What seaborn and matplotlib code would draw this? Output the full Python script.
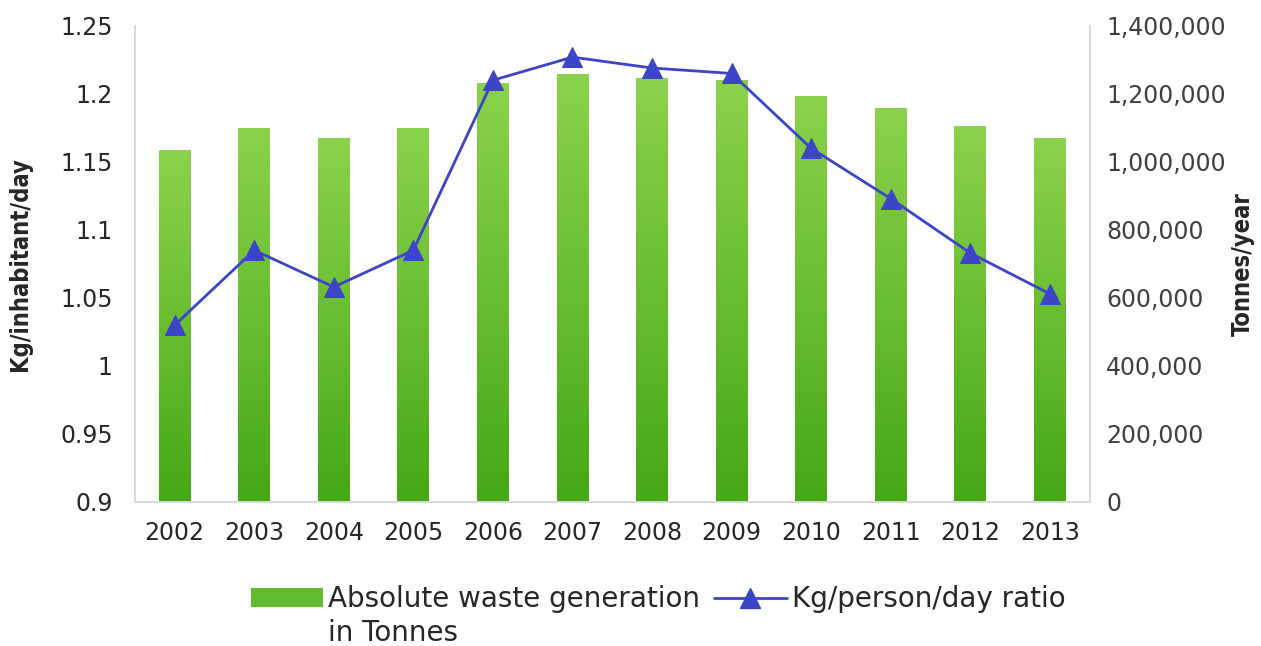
import numpy as np
import pandas as pd
import matplotlib
matplotlib.use('Agg')
import matplotlib.pyplot as plt
from matplotlib.colors import LinearSegmentedColormap
from matplotlib.lines import Line2D
from matplotlib.patches import Patch
from matplotlib.ticker import FuncFormatter
import seaborn as sns

# --- Data ---
years = ['2002', '2003', '2004', '2005', '2006', '2007',
         '2008', '2009', '2010', '2011', '2012', '2013']
tonnes = [1035000, 1100000, 1070000, 1100000, 1232000, 1258000,
          1248000, 1241000, 1194000, 1158000, 1106000, 1070000]
kg_per_day = [1.030, 1.085, 1.058, 1.085, 1.210, 1.227,
              1.219, 1.215, 1.160, 1.123, 1.083, 1.053]

left_ticks = [0.9, 0.95, 1.0, 1.05, 1.1, 1.15, 1.2, 1.25]
left_tick_labels = ['0.9', '0.95', '1', '1.05', '1.1', '1.15', '1.2', '1.25']
right_ticks = [0, 200000, 400000, 600000, 800000, 1000000, 1200000, 1400000]

bar_label = 'Absolute waste generation'
bar_label_2 = 'in Tonnes'
line_label = 'Kg/person/day ratio'

df = pd.DataFrame({'year': years, 'tonnes': tonnes, 'kg': kg_per_day})
df['pos'] = np.arange(len(df))

sns.set_style('white')
plt.rcParams['font.family'] = ['DejaVu Sans']

text_col = '#262626'
spine_col = '#D9D9D9'
line_col = '#3C44C8'
green_top = '#8DD24C'
green_bot = '#45A815'

fig = plt.figure(figsize=(12.61, 6.46), dpi=100)
ax = fig.add_axes([0.107, 0.223, 0.757, 0.737])

# bars on the main axes (right-hand scale), line on the twin (left-hand scale)
sns.barplot(data=df, x='year', y='tonnes', ax=ax, color=green_bot, width=0.4,
            saturation=1, edgecolor='none')

cmap = LinearSegmentedColormap.from_list('grn', [green_bot, green_top])
grad = np.linspace(0, 1, 256).reshape(-1, 1)
for bar in list(ax.patches):
    x0, y0 = bar.get_x(), bar.get_y()
    w, h = bar.get_width(), bar.get_height()
    im = ax.imshow(grad, extent=[x0, x0 + w, y0, y0 + h], origin='lower',
                   aspect='auto', cmap=cmap, zorder=2)
    im.set_clip_path(bar)

ax.set_xlim(-0.5, len(years) - 0.5)
ax.set_ylim(0, 1400000)
ax.set_xlabel('')

ax2 = ax.twinx()
sns.lineplot(data=df, x='pos', y='kg', ax=ax2, color=line_col, linewidth=2.0,
             marker='^', markersize=14, markeredgecolor=line_col)
ax2.set_xlim(-0.5, len(years) - 0.5)
ax2.set_xlabel('')

# twinx flips the ticks, so set the sides after creating it
ax.yaxis.tick_right()
ax.yaxis.set_label_position('right')
ax.set_yticks(right_ticks)
ax.yaxis.set_major_formatter(FuncFormatter(lambda v, p: f'{int(v):,}'))
ax.set_ylabel('Tonnes/year', fontsize=17, fontweight='bold',
              fontstretch='condensed', color=text_col, labelpad=4)

ax2.yaxis.tick_left()
ax2.yaxis.set_label_position('left')
ax2.set_ylim(0.9, 1.25)
ax2.set_yticks(left_ticks)
ax2.set_yticklabels(left_tick_labels)
ax2.set_ylabel('Kg/inhabitant/day', fontsize=17, fontweight='bold',
               fontstretch='condensed', color=text_col, labelpad=20)

for a in (ax, ax2):
    for s in a.spines.values():
        s.set_color(spine_col)
        s.set_linewidth(1.2)
    a.spines['top'].set_visible(False)
    a.tick_params(length=0, labelsize=17, colors=text_col)
    a.grid(False)
ax.tick_params(axis='x', pad=14, labelsize=17)
ax.tick_params(axis='y', pad=12, colors='#404040')
ax2.tick_params(axis='y', pad=16)

handles = [Patch(facecolor='#62BC2C', edgecolor='none'),
           Line2D([0], [0], color=line_col, linewidth=2.0, marker='^',
                  markersize=14)]
leg = fig.legend(handles, [bar_label, line_label], loc='center',
                 bbox_to_anchor=(0.522, 0.072), ncol=2, frameon=False,
                 fontsize=20, handlelength=2.6, handletextpad=0.2,
                 columnspacing=0.5, labelcolor=text_col)

# second line of the bar label, aligned under the first line's text
fig.canvas.draw()
bb = leg.get_texts()[0].get_window_extent()
x_fig = bb.x0 / fig.bbox.width
fig.text(x_fig, 0.008, bar_label_2, fontsize=20, color=text_col,
         ha='left', va='baseline')

fig.savefig('out.png', dpi=100)
plt.close(fig)
